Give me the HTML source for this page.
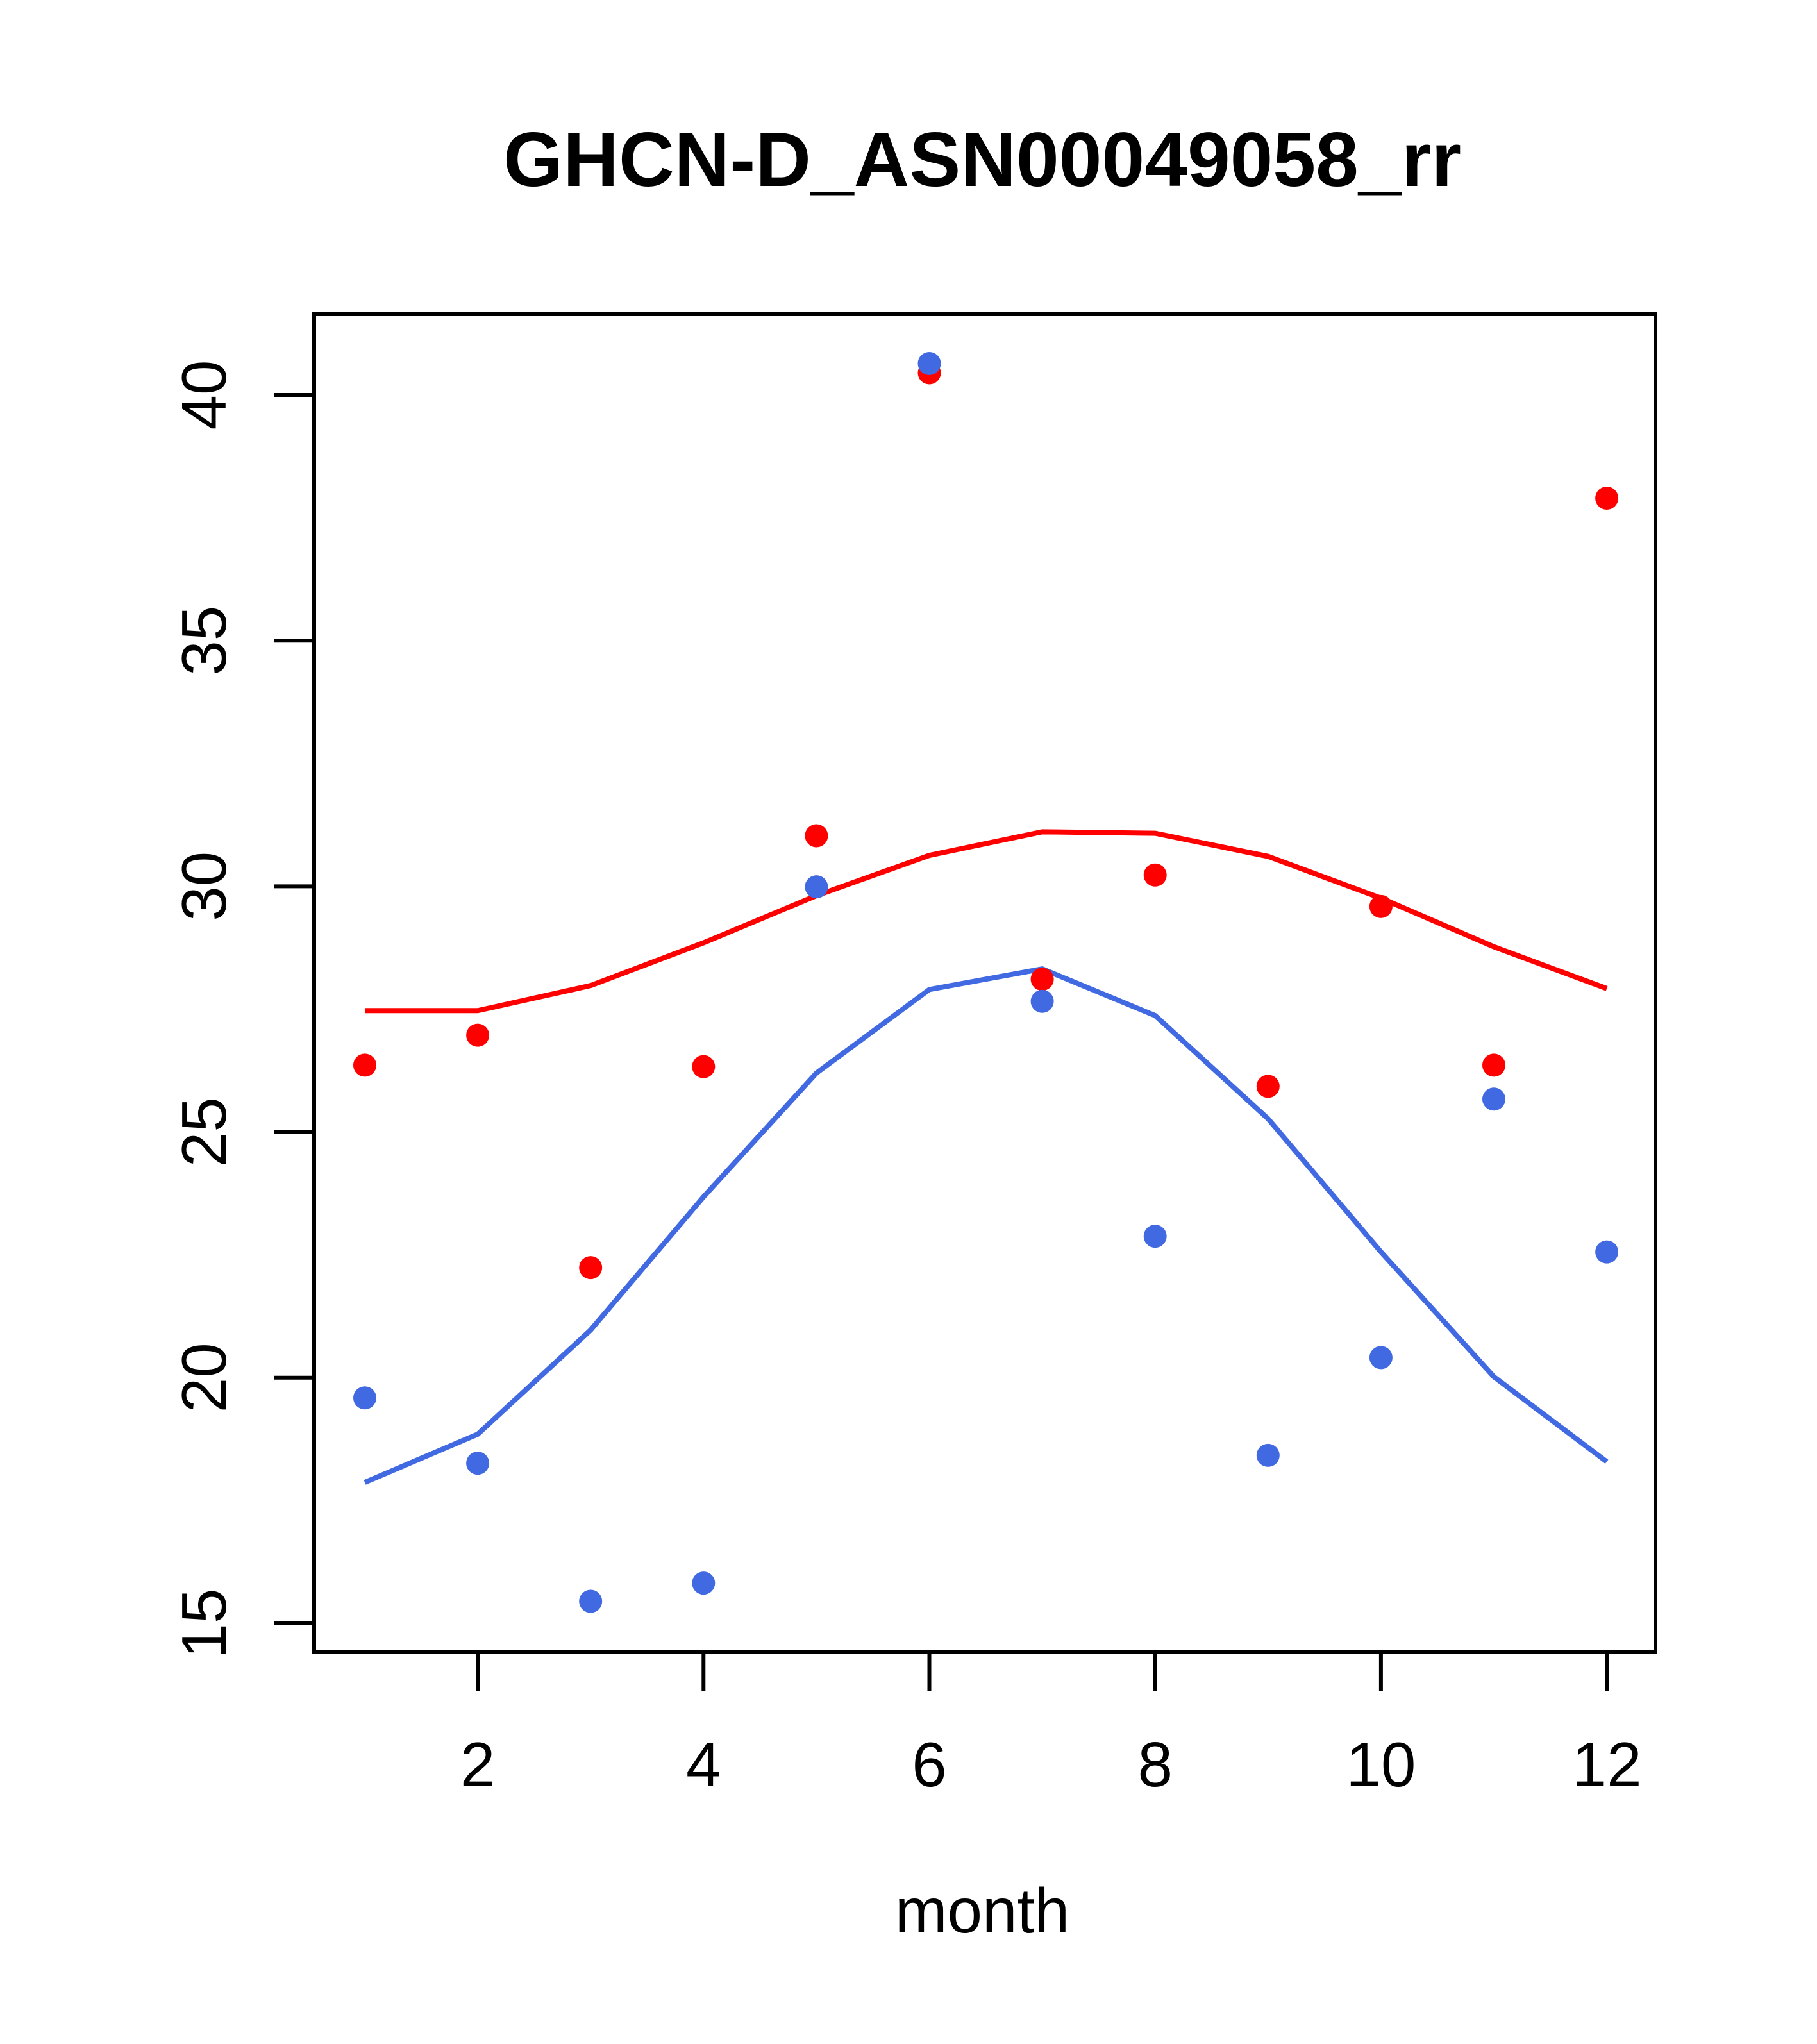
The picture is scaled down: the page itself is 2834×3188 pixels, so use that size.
<!DOCTYPE html>
<html><head><meta charset="utf-8"><style>
html,body{margin:0;padding:0;background:#fff;}
svg{display:block;font-family:"Liberation Sans",Arial,sans-serif;}
</style></head><body>
<svg id="chart" width="2834" height="3188" viewBox="0 0 2834 3188" xmlns="http://www.w3.org/2000/svg">
<rect width="2834" height="3188" fill="#fff"/>
<text x="1532" y="290" font-size="120" font-weight="bold" text-anchor="middle">GHCN-D_ASN00049058_rr</text>
<text x="1532" y="3014" font-size="98" text-anchor="middle">month</text>
<g id="axes"></g>
<g id="marks"></g>
<rect x="490" y="490" width="2092" height="2086" fill="none" stroke="#000" stroke-width="6"/>
</svg>
<script>
const months = [1,2,3,4,5,6,7,8,9,10,11,12];
const redPoints = [26.36,26.97,22.24,26.33,31.03,40.45,28.11,30.23,25.93,29.59,26.36,37.90];
const bluePoints = [19.59,18.26,15.45,15.82,29.99,40.64,27.66,22.88,18.42,20.41,25.67,22.56];
const redLine = [27.47,27.47,27.98,28.85,29.81,30.63,31.11,31.08,30.61,29.76,28.77,27.92];
const blueLine = [17.87,18.85,20.97,23.68,26.20,27.90,28.32,27.37,25.27,22.56,20.02,18.29];
const xTicks = [2,4,6,8,10,12];
const yTicks = [15,20,25,30,35,40];

const NS = "http://www.w3.org/2000/svg";
function xs(m){ return 569 + (m-1)*176.1; }
function ys(v){ return 616 + (40-v)*76.64; }
const axes = document.getElementById('axes');
const marks = document.getElementById('marks');
function mk(tag, attrs, parent){ const e=document.createElementNS(NS,tag); for(const k in attrs) e.setAttribute(k,attrs[k]); parent.appendChild(e); return e; }

xTicks.forEach(t=>{
  const l = mk('line',{x1:xs(t),x2:xs(t),y1:2576,y2:2638,stroke:'#000','stroke-width':6},axes);
  
  
  const tx = mk('text',{x:xs(t),y:2786,'font-size':98,'text-anchor':'middle'},axes);
  tx.textContent = t;
  
  
});
yTicks.forEach(t=>{
  const l = mk('line',{x1:428,x2:490,y1:ys(t),y2:ys(t),stroke:'#000','stroke-width':6},axes);
  
  
  const tx = mk('text',{x:0,y:0,'font-size':98,'text-anchor':'middle',transform:`translate(352,${ys(t)}) rotate(-90)`},axes);
  tx.textContent = t;
  
  
});
function line(vals,color,name){
  const p = mk('polyline',{points:months.map((m,i)=>xs(m)+','+ys(vals[i])).join(' '),fill:'none',stroke:color,'stroke-width':8},marks);
  
  
}
function pts(vals,color,name){
  months.forEach((m,i)=>{
    const c = mk('circle',{cx:xs(m),cy:ys(vals[i]),r:18,fill:color},marks);
    
    
  });
}
line(redLine,'#ff0000','red-fit-line');
line(blueLine,'#4169e1','blue-fit-line');
pts(redPoints,'#ff0000','red-point');
pts(bluePoints,'#4169e1','blue-point');
</script>
</body></html>
